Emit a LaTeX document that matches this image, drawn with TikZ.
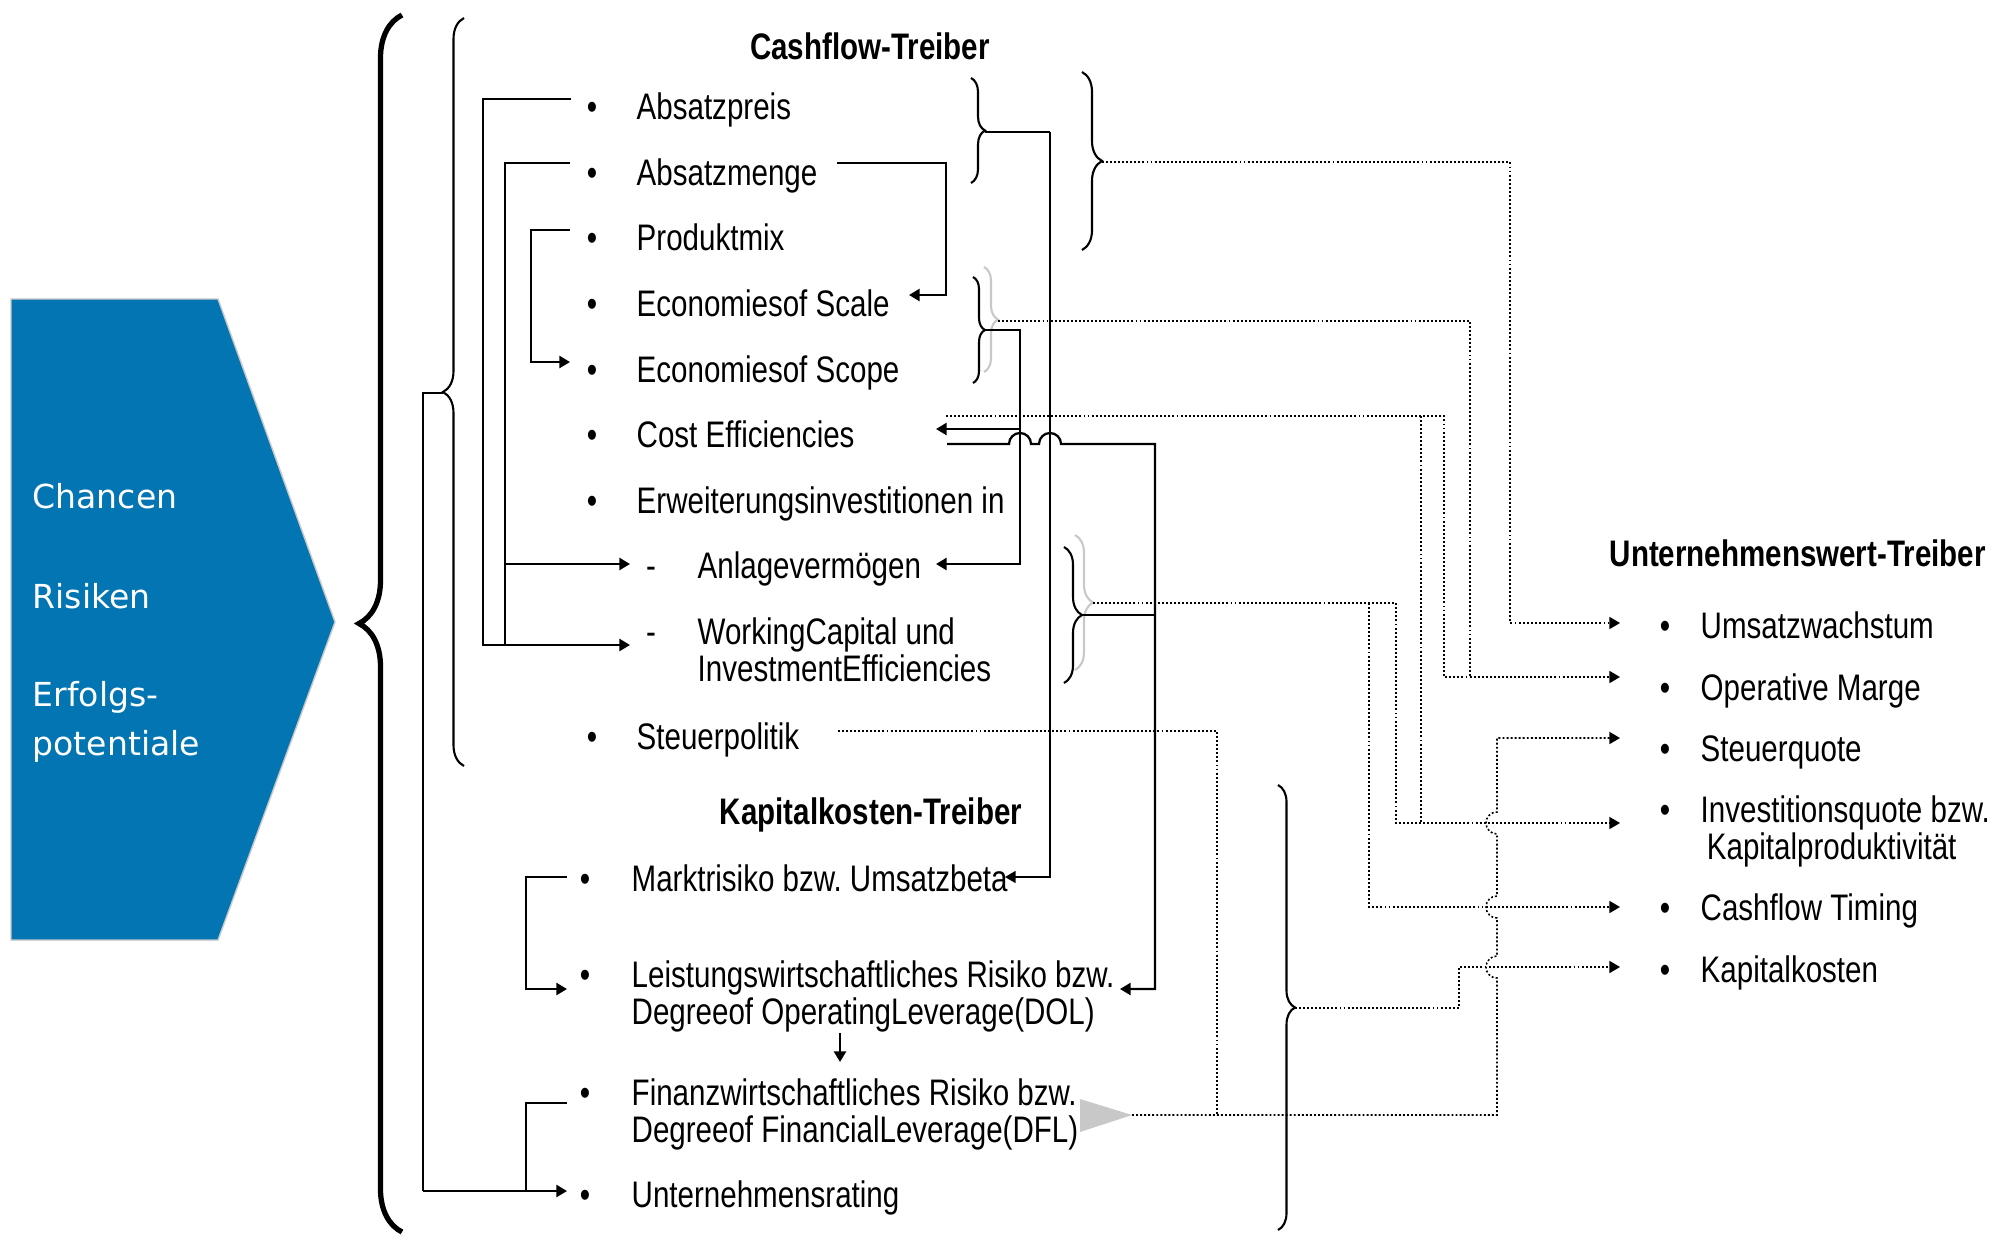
\documentclass[tikz,border=0pt]{standalone}
\usepackage{fontspec}
\setmainfont[FakeStretch=0.8]{Liberation Sans}
\newfontfamily\chancefont{DejaVu Sans}
\usetikzlibrary{arrows.meta,decorations.pathreplacing}
\definecolor{wertblau}{RGB}{2,117,178}
\definecolor{klgrau}{RGB}{200,200,200}
\def\fs{\fontsize{10.5}{9.8}\selectfont}
\newcommand\zweiz[2]{\begin{tabular}[t]{@{}l@{}}#1\\#2\end{tabular}}
\frenchspacing

\begin{document}
\begin{tikzpicture}[x=0.01cm,y=-0.01cm,
    txt/.style={anchor=base west,inner sep=0pt,font=\fs,yshift=-0.04cm},
    kopf/.style={anchor=base,inner sep=0pt,font=\fs\bfseries,yshift=-0.04cm},
    bul/.style={anchor=base,inner sep=0pt,font=\fs,yshift=-0.04cm},
    chance/.style={anchor=base west,inner sep=0pt,text=white,align=left,text width=3cm,
      font=\chancefont\fontsize{9.4}{14.2}\selectfont},
    ln/.style={line width=0.65pt},
    thin ln/.style={line width=0.4pt},
    dn/.style={line width=0.45pt,dash pattern=on 0.55pt off 0.6pt},
    pf/.style={-{Triangle[length=3pt,width=3.4pt]}},
    klammer/.style={decorate,decoration={brace,amplitude=#1},line width=0.6pt}]
  \useasboundingbox (0,0) rectangle (1991,1236);

  \fill[wertblau,draw=klgrau,line width=0.4pt]
    (11,299) -- (218,299) -- (335,622) -- (218,940) -- (11,940) -- cycle;
  \node[chance] (chancen) at (32,508) {Chancen};
  \node[chance] (risiken) at (32,608) {Risiken};
  \node[chance] (erfolg) at (32,706) {Erfolgs-\\potentiale};

  \draw[klammer=0.43cm,line width=1.5pt] (402,1232) -- (402,15);
  \draw[klammer=0.21cm] (464,766) -- (464,18);
  \coordinate (b2tip) at (443,393);

  \node[kopf] (cfkopf) at (870,55) {Cashflow-Treiber};
  \node[bul] (bPreis) at (592,115) {•};
  \node[txt] (preis) at (636,115) {Absatzpreis};
  \node[bul] (bMenge) at (592,181) {•};
  \node[txt] (menge) at (636,181) {Absatzmenge};
  \node[bul] (bMix) at (592,246) {•};
  \node[txt] (mix) at (636,246) {Produktmix};
  \node[bul] (bScale) at (592,312) {•};
  \node[txt] (scale) at (636,312) {Economiesof Scale};
  \node[bul] (bScope) at (592,378) {•};
  \node[txt] (scope) at (636,378) {Economiesof Scope};
  \node[bul] (bCost) at (592,443) {•};
  \node[txt] (cost) at (636,443) {Cost Efficiencies};
  \node[bul] (bErw) at (592,509) {•};
  \node[txt] (erw) at (636,509) {Erweiterungsinvestitionen in};
  \node[bul] (dAnl) at (651,574) {-};
  \node[txt] (anl) at (697,574) {Anlagevermögen};
  \node[bul] (dWC) at (651,640) {-};
  \node[txt] (wc) at (697,640) {\zweiz{WorkingCapital und}{InvestmentEfficiencies}};
  \node[bul] (bSteuer) at (592,745) {•};
  \node[txt] (steuer) at (636,745) {Steuerpolitik};

  \node[kopf] (kkkopf) at (871,820) {Kapitalkosten-Treiber};
  \node[bul] (bMarkt) at (585,887) {•};
  \node[txt] (markt) at (631,887) {Marktrisiko bzw. Umsatzbeta};
  \node[bul] (bLeist) at (585,983) {•};
  \node[txt] (leist) at (631,983) {\zweiz{Leistungswirtschaftliches Risiko bzw.}{Degreeof OperatingLeverage(DOL)}};
  \node[bul] (bFin) at (585,1101) {•};
  \node[txt] (fin) at (631,1101) {\zweiz{Finanzwirtschaftliches Risiko bzw.}{Degreeof FinancialLeverage(DFL)}};
  \node[bul] (bRating) at (585,1203) {•};
  \node[txt] (rating) at (631,1203) {Unternehmensrating};

  \node[anchor=base west,inner sep=0pt,font=\fs\bfseries,yshift=-0.04cm] (uwkopf) at (1609,562) {Unternehmenswert-Treiber};
  \node[bul] (bUms) at (1665,634) {•};
  \node[txt] (ums) at (1700,634) {Umsatzwachstum};
  \node[bul] (bMarge) at (1665,696) {•};
  \node[txt] (marge) at (1700,696) {Operative Marge};
  \node[bul] (bSq) at (1665,757) {•};
  \node[txt] (sq) at (1700,757) {Steuerquote};
  \node[bul] (bInv) at (1665,818) {•};
  \node[txt] (inv) at (1700,818) {\zweiz{Investitionsquote bzw.}{\,Kapitalproduktivität}};
  \node[bul] (bCft) at (1665,916) {•};
  \node[txt] (cft) at (1700,916) {Cashflow Timing};
  \node[bul] (bKk) at (1665,978) {•};
  \node[txt] (kk) at (1700,978) {Kapitalkosten};

  \draw[klammer=0.14cm] (971,78) -- (971,183);
  \coordinate (b3tip) at (985,132);
  \draw[klammer=0.2cm] (1082,72) -- (1082,250);
  \coordinate (b4tip) at (1102,162);
  \draw[klammer=0.14cm,klgrau] (984,267) -- (984,372);
  \coordinate (b5gtip) at (998,321);
  \draw[klammer=0.12cm] (973,277) -- (973,383);
  \coordinate (b5tip) at (985,330);
  \draw[klammer=0.18cm,klgrau] (1075,535) -- (1075,670);
  \coordinate (b6gtip) at (1093,603);
  \draw[klammer=0.18cm] (1064,547) -- (1064,683);
  \coordinate (b6tip) at (1082,615);
  \draw[klammer=0.17cm] (1278,785) -- (1278,1230);
  \coordinate (b7tip) at (1295,1008);

  \coordinate (pPreis) at (571,99);
  \coordinate (pMengeL) at (570,163);
  \coordinate (pMengeR) at (837,163);
  \coordinate (pMix) at (570,230);
  \coordinate (pScale) at (909,295);
  \coordinate (pScope) at (570,362);
  \coordinate (pCostA) at (936,429);
  \coordinate (pCostB) at (947,444);
  \coordinate (pCostD) at (946,416);
  \coordinate (pAnlL) at (630,564);
  \coordinate (pAnlR) at (936,564);
  \coordinate (pWC) at (630,645);
  \coordinate (pSteuer) at (838,731);
  \coordinate (pMarktL) at (567,877);
  \coordinate (pMarktR) at (1005,877);
  \coordinate (pLeistL) at (567,989);
  \coordinate (pLeistR) at (1120,989);
  \coordinate (pDOL) at (840,1033);
  \coordinate (pDFL) at (840,1062);
  \coordinate (pFin) at (567,1103);
  \coordinate (pRating) at (567,1191);
  \coordinate (eUms) at (1620,623);
  \coordinate (eMarge) at (1620,677);
  \coordinate (eSq) at (1620,738);
  \coordinate (eInv) at (1620,823);
  \coordinate (eCft) at (1620,907);
  \coordinate (eKk) at (1620,967);
  \coordinate (dfltip) at (1132,1115);

  \draw[ln,pf] (pPreis) -- (483,99) |- (pWC);
  \draw[ln] (pMengeL) -- (505,163) -- (505,645);
  \draw[ln,pf] (505,564) -- (pAnlL);
  \draw[ln,pf] (pMengeR) -| (946,295) -- (pScale);
  \draw[ln,pf] (pMix) -- (531,230) |- (pScope);
  \draw[thin ln] (b2tip) -- (423,393) -- (423,1191);
  \draw[ln,pf] (423,1191) -- (pRating);
  \draw[ln] (pFin) -- (526,1103) -- (526,1191);
  \draw[ln,pf] (pMarktL) -- (526,877) |- (pLeistL);
  \draw[ln,pf] (pDOL) -- (pDFL);
  \draw[ln] (b3tip) -- (1050,132);
  \draw[thin ln,pf] (1050,132) |- (pMarktR);
  \draw[ln,pf] (b5tip) -- (1020,330) |- (pAnlR);
  \draw[ln,pf] (1020,429) -- (pCostA);
  \draw[ln,pf] (pCostB) -- (1009,444) arc[start angle=180,end angle=0,radius=0.11cm]
    -- (1039,444) arc[start angle=180,end angle=0,radius=0.11cm]
    -- (1155,444) |- (pLeistR);
  \draw[ln] (b6tip) -- (1155,615);

  \fill[klgrau] (1080,1099) -- (dfltip) -- (1080,1132) -- cycle;
  \draw[dn,pf] (b4tip) -| (1510,623) -- (eUms);
  \draw[dn] (b5gtip) -| (1470,677);
  \draw[dn,pf] (pCostD) -| (1444,677) -- (eMarge);
  \draw[dn] (1421,416) -- (1421,823);
  \draw[dn,pf] (b6gtip) -| (1396,823) -- (eInv);
  \draw[dn,pf] (1369,603) |- (eCft);
  \draw[dn] (pSteuer) -| (1217,1115);
  \draw[dn,pf] (dfltip) -- (1497,1115) -- (1497,978)
    arc[start angle=270,end angle=90,radius=0.11cm] -- (1497,918)
    arc[start angle=270,end angle=90,radius=0.11cm] -- (1497,834)
    arc[start angle=270,end angle=90,radius=0.11cm] |- (eSq);
  \draw[dn,pf] (b7tip) -| (1459,967) -- (eKk);
\end{tikzpicture}
\end{document}
